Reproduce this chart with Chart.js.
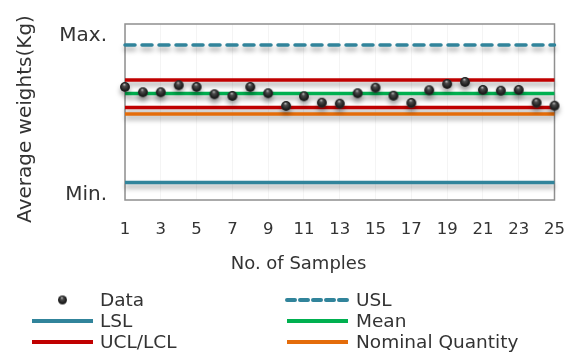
<!DOCTYPE html>
<html>
<head>
<meta charset="utf-8">
<script src="https://cdn.jsdelivr.net/npm/chart.js@4/dist/chart.umd.min.js"></script>
<style>
  html, body { margin: 0; padding: 0; background: #ffffff; }
  #wrap { width: 585px; height: 353px; }
</style>
</head>
<body>
<div id="wrap"><canvas id="c" width="585" height="353"></canvas></div>
<script>
// Sample numbers (x axis)
const samples = [1,2,3,4,5,6,7,8,9,10,11,12,13,14,15,16,17,18,19,20,21,22,23,24,25];
// Average weight of each sample
const weights = [113, 107.7, 107.7, 114.7, 113, 105.7, 104, 113, 106.7, 94,
                 103.7, 97.3, 96.3, 106.7, 112.3, 104.3, 97, 109.7, 116, 118,
                 110, 109.3, 110, 97.3, 94.3];
// Reference levels
const usl = 155;
const ucl = 120;
const meanLevel = 106.5;
const lcl = 92.5;
const nominal = 86;
const lsl = 17.5;
// Axis ticks
const xTickValues = [1,3,5,7,9,11,13,15,17,19,21,23,25];
const yTickValues = [5.5, 164];
const yTickLabels = ['Min.', 'Max.'];
const xTitle = 'No. of Samples';
const yTitle = 'Average weights(Kg)';

const FONT = '"DejaVu Sans", sans-serif';
const TEXT = '#333333';
const TEAL = '#31849B';
const RED = '#C00000';
const GREEN = '#00B050';
const ORANGE = '#E46C0A';

// Shaded ball used as the point marker
function makeBall(r) {
  const s = Math.ceil(r * 2 + 2);
  const cv = document.createElement('canvas');
  cv.width = s; cv.height = s;
  const g = cv.getContext('2d');
  const c = s / 2;
  const grad = g.createRadialGradient(c - r * 0.15, c - r * 0.55, r * 0.05, c, c, r);
  grad.addColorStop(0, '#b5b5b5');
  grad.addColorStop(0.3, '#4a4a4a');
  grad.addColorStop(0.8, '#1c1c1c');
  grad.addColorStop(1, '#2e2e2e');
  g.fillStyle = grad;
  g.beginPath(); g.arc(c, c, r, 0, Math.PI * 2); g.fill();
  return cv;
}
const ball = makeBall(5);
const legendBall = makeBall(4.5);

function level(v) {
  return [{ x: samples[0], y: v }, { x: samples[samples.length - 1], y: v }];
}
function lineSet(label, v, color, extra) {
  return Object.assign({
    type: 'line', label, data: level(v), borderColor: color, backgroundColor: color,
    borderWidth: 3.5, pointRadius: 0, pointHoverRadius: 0, fill: false, clip: false, order: 2,
    borderCapStyle: 'butt'
  }, extra || {});
}

const datasets = [
  {
    type: 'line', label: 'Data',
    data: samples.map((s, i) => ({ x: s, y: weights[i] })),
    showLine: false, pointStyle: ball, pointRadius: 5, clip: false, order: 1,
    borderColor: '#222', backgroundColor: '#222', legendKind: 'point'
  },
  lineSet('USL', usl, TEAL, { borderDash: [10, 7], borderCapStyle: 'round', borderWidth: 3.5 }),
  lineSet('LSL', lsl, TEAL),
  lineSet('Mean', meanLevel, GREEN),
  lineSet('UCL/LCL', ucl, RED),
  lineSet('Nominal Quantity', nominal, ORANGE),
  lineSet('LCL', lcl, RED, { hideInLegend: true })
];

// Soft drop shadow under every series
const shadowPlugin = {
  id: 'shadow',
  beforeDatasetDraw(chart) {
    const ctx = chart.ctx;
    ctx.save();
    ctx.shadowColor = 'rgba(0,0,0,0.35)';
    ctx.shadowBlur = 5;
    ctx.shadowOffsetX = 0;
    ctx.shadowOffsetY = 4;
  },
  afterDatasetDraw(chart) {
    chart.ctx.restore();
  }
};

// Frame around the plot area
const framePlugin = {
  id: 'frame',
  beforeDatasetsDraw(chart) {
    const { left, top, right, bottom } = chart.chartArea;
    const ctx = chart.ctx;
    ctx.save();
    ctx.strokeStyle = '#8f8f8f';
    ctx.lineWidth = 1.5;
    ctx.strokeRect(left, top, right - left, bottom - top);
    ctx.restore();
  }
};

// Axis titles
const titlesPlugin = {
  id: 'titles',
  afterDraw(chart) {
    const ctx = chart.ctx;
    ctx.save();
    ctx.fillStyle = TEXT;
    ctx.textAlign = 'center';
    ctx.textBaseline = 'middle';
    ctx.font = '18px ' + FONT;
    ctx.fillText(xTitle, 298.5, 264);
    ctx.translate(26, 119);
    ctx.rotate(-Math.PI / 2);
    ctx.font = '20px ' + FONT;
    ctx.fillText(yTitle, 0, 0);
    ctx.restore();
  }
};

// Two-column legend below the chart
const legendPlugin = {
  id: 'legendGrid',
  afterDraw(chart) {
    const ctx = chart.ctx;
    const items = chart.data.datasets.filter(d => !d.hideInLegend);
    const rows = [300, 321, 342];
    const cols = [{ x0: 32, x1: 93, tx: 100 }, { x0: 287, x1: 348, tx: 356 }];
    ctx.save();
    items.forEach((d, i) => {
      const col = cols[i % 2];
      const y = rows[Math.floor(i / 2)];
      if (d.legendKind === 'point') {
        const cx = (col.x0 + col.x1) / 2;
        ctx.drawImage(legendBall, cx - legendBall.width / 2, y - legendBall.height / 2);
      } else {
        ctx.strokeStyle = d.borderColor;
        ctx.lineWidth = 4;
        ctx.lineCap = d.borderDash ? 'round' : 'butt';
        ctx.setLineDash(d.borderDash ? [8, 5] : []);
        ctx.beginPath();
        ctx.moveTo(col.x0, y);
        ctx.lineTo(col.x1, y);
        ctx.stroke();
        ctx.setLineDash([]);
      }
      ctx.fillStyle = TEXT;
      ctx.font = '18.5px ' + FONT;
      ctx.textAlign = 'left';
      ctx.textBaseline = 'middle';
      ctx.fillText(d.label, col.tx, y + 1);
    });
    ctx.restore();
  }
};

new Chart(document.getElementById('c'), {
  data: { datasets },
  options: {
    responsive: false,
    animation: false,
    events: [],
    layout: { padding: { left: 0, top: 24, right: 26, bottom: 81 } },
    plugins: { legend: { display: false }, tooltip: { enabled: false }, title: { display: false } },
    scales: {
      x: {
        type: 'linear',
        min: samples[0], max: samples[samples.length - 1],
        afterBuildTicks(scale) { scale.ticks = xTickValues.map(v => ({ value: v })); },
        afterFit(scale) { scale.height = 72; },
        ticks: { color: TEXT, font: { family: FONT, size: 16.5 }, padding: 20, autoSkip: false, maxRotation: 0,
                 callback: v => String(v) },
        grid: { color: 'rgba(0,0,0,0.045)', drawTicks: false },
        border: { display: false }
      },
      y: {
        type: 'linear',
        min: 0, max: 176,
        afterBuildTicks(scale) { scale.ticks = yTickValues.map(v => ({ value: v })); },
        afterFit(scale) { scale.width = 125; },
        ticks: { color: TEXT, font: { family: FONT, size: 20 }, padding: 10,
                 callback: v => yTickLabels[yTickValues.indexOf(v)] },
        grid: { display: false },
        border: { display: false }
      }
    }
  },
  plugins: [framePlugin, shadowPlugin, titlesPlugin, legendPlugin]
});
</script>
</body>
</html>
